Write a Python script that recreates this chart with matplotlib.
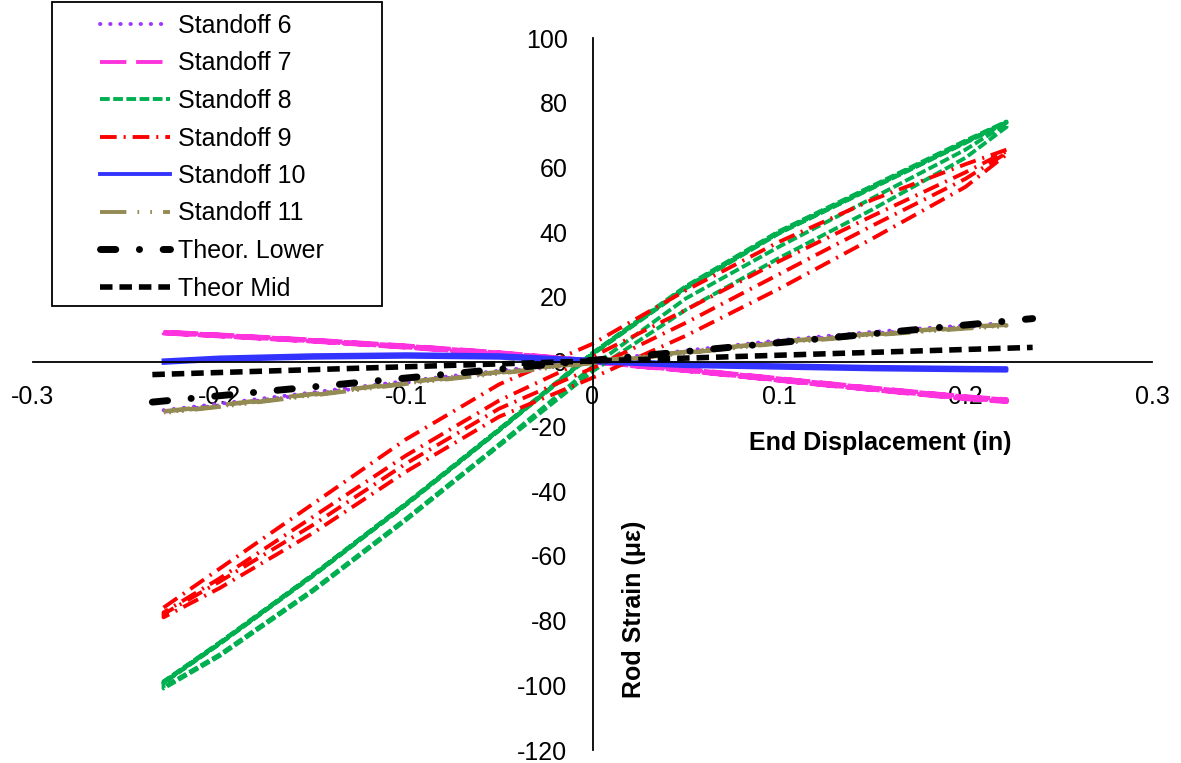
import matplotlib
matplotlib.use("Agg")
import matplotlib.pyplot as plt
from matplotlib.patches import Rectangle

plt.rcParams['font.family'] = ['Liberation Sans', 'DejaVu Sans']
plt.rcParams['axes.unicode_minus'] = False
plt.rcParams['lines.scale_dashes'] = False
plt.rcParams['path.simplify'] = False

# ---------------- data ----------------
x_grid = [-0.23, -0.2, -0.15, -0.1, -0.05, 0.0, 0.05, 0.1, 0.15, 0.2, 0.222]

s6_branches = [
    [-15.0, -13.0, -9.5, -6.0, -2.8, 0.3, 3.4, 6.6, 9.2, 11.2, 11.9],
    [-15.5, -13.5, -10.0, -6.5, -3.3, -0.2, 2.9, 6.1, 8.7, 10.7, 11.4],
]
s7_branches = [
    [9.2, 8.3, 6.7, 4.9, 2.8, 0.3, -2.3, -5.2, -8.1, -10.8, -11.7],
    [8.8, 7.9, 6.3, 4.4, 2.3, -0.2, -2.8, -5.8, -8.7, -11.4, -12.3],
    [9.0, 8.1, 6.5, 4.7, 2.6, 0.1, -2.5, -5.5, -8.4, -11.1, -12.0],
    [8.9, 8.0, 6.4, 4.5, 2.4, -0.1, -2.7, -5.7, -8.6, -11.3, -12.2],
    [9.1, 8.2, 6.6, 4.8, 2.7, 0.2, -2.4, -5.3, -8.2, -10.9, -11.8],
    [8.7, 7.8, 6.2, 4.3, 2.2, -0.3, -2.9, -5.9, -8.8, -11.6, -12.5],
    [9.3, 8.4, 6.8, 5.0, 2.9, 0.4, -2.2, -5.1, -8.0, -10.7, -11.6],
    [8.8, 7.9, 6.3, 4.5, 2.3, -0.2, -2.8, -5.8, -8.7, -11.4, -12.3],
]
s8_branches = [
    [-99, -87, -66, -44, -21, 2.5, 23, 40, 54, 68, 74],
    [-99.3, -87.3, -66.3, -44.3, -21.3, 2.2, 22.6, 39.6, 53.6, 67.6, 73.8],
    [-98.8, -86.8, -65.8, -43.8, -20.8, 2.7, 23.3, 40.3, 54.3, 68.3, 74.2],
    [-99.1, -87.1, -66.1, -44.1, -21.1, 2.4, 22.9, 39.8, 53.8, 67.8, 74],
    [-101, -91, -71, -49, -26, -3, 16, 32, 47, 63, 72.5],
    [-100.5, -90.5, -70.5, -48.5, -25.5, -1.5, 19.5, 35.5, 50.5, 65.5, 73.5],
]
s9_branches = [
    [-76, -64, -44, -24, -7, 5.5, 22, 37, 50, 61, 65.5],
    [-79, -70, -53, -34, -17, -5, 8, 22.5, 38, 54, 64],
    [-77.5, -67, -48, -29, -12, 1.5, 16, 31, 45, 58.5, 65],
    [-78, -68, -50.5, -31.5, -14.5, -2, 12, 27, 42, 56.5, 64.5],
]
s10_branches = [
    [0.4, 1.3, 2.0, 2.3, 2.0, 0.6, -0.6, -1.1, -1.6, -1.9, -2.0],
    [-0.4, 0.5, 1.2, 1.5, 1.2, -0.2, -1.4, -1.9, -2.4, -2.7, -2.8],
]
s11_branches = [
    [-15.3, -13.4, -9.9, -6.3, -3.1, 0.1, 3.1, 6.2, 8.7, 10.8, 11.5],
    [-15.9, -14.0, -10.5, -6.9, -3.7, -0.5, 2.6, 5.6, 8.1, 10.2, 10.9],
    [-15.5, -13.6, -10.1, -6.5, -3.3, -0.1, 2.9, 6.0, 8.5, 10.6, 11.3],
    [-15.7, -13.8, -10.3, -6.7, -3.5, -0.3, 2.7, 5.8, 8.3, 10.4, 11.1],
]
theor_x = [-0.236, 0.236]
theor_lower = [-12.5, 13.3]
theor_mid = [-4.0, 4.4]

series_labels = ["Standoff 6", "Standoff 7", "Standoff 8", "Standoff 9",
                 "Standoff 10", "Standoff 11"]
theor_labels = ["Theor. Lower", "Theor Mid"]
x_ticks = [-0.3, -0.2, -0.1, 0.0, 0.1, 0.2, 0.3]
x_tick_labels = ["-0.3", "-0.2", "-0.1", "0", "0.1", "0.2", "0.3"]
y_ticks = [-120, -100, -80, -60, -40, -20, 0, 20, 40, 60, 80, 100]

# ---------------- figure ----------------
W, H = 1181, 763
fig = plt.figure(figsize=(W / 100, H / 100), dpi=100)
ax = fig.add_axes([33 / W, 1 - 750 / H, 1119 / W, 712 / H])
ax.set_xlim(-0.3, 0.3)
ax.set_ylim(-120, 100)


def loop(branches):
    xs, ys = [], []
    for i, b in enumerate(branches):
        if i % 2 == 0:
            xs += x_grid
            ys += b
        else:
            xs += x_grid[::-1]
            ys += b[::-1]
    return xs, ys


styles = [
    dict(color='#A033FF', lw=2.8, dashes=(0.3, 7.0), dash_capstyle='round'),
    dict(color='#FF33DD', lw=2.8, dashes=(19, 7)),
    dict(color='#00B050', lw=2.8, dashes=(7, 2.5)),
    dict(color='#FF0000', lw=2.8, dashes=(12, 5, 1.5, 5)),
    dict(color='#3333FF', lw=2.8, linestyle='-'),
    dict(color='#948A54', lw=2.8, dashes=(19, 8, 1.2, 8, 1.2, 8)),
]
all_branches = [s6_branches, s7_branches, s8_branches, s9_branches,
                s10_branches, s11_branches]

handles = []
for br, st, lab in zip(all_branches, styles, series_labels):
    xs, ys = loop(br)
    ln, = ax.plot(xs, ys, label=lab, **st)
    handles.append(ln)

ln, = ax.plot(theor_x, theor_lower, color='black', lw=5,
              dashes=(11, 17, 0.1, 17), dash_capstyle='round',
              label=theor_labels[0])
handles.append(ln)
ln, = ax.plot(theor_x, theor_mid, color='black', lw=4, dashes=(9, 5),
              label=theor_labels[1])
handles.append(ln)

# spines at zero
for s in ['top', 'right']:
    ax.spines[s].set_visible(False)
ax.spines['left'].set_position(('data', 0))
ax.spines['bottom'].set_position(('data', 0))
for s in ['left', 'bottom']:
    ax.spines[s].set_linewidth(1.3)
    ax.spines[s].set_color('black')

ax.set_xticks(x_ticks)
ax.set_xticklabels(x_tick_labels)
ax.set_yticks(y_ticks)
ax.tick_params(axis='both', length=0, labelsize=18)
ax.tick_params(axis='x', pad=17)
ax.tick_params(axis='y', pad=18)

ax.set_xlabel("End Displacement (in)", fontsize=18, fontweight='bold',
              va='center', ha='center')
ax.xaxis.set_label_coords(0.757, 0.431)
ax.set_ylabel("Rod Strain (με)", fontsize=18, fontweight='bold',
              va='center', ha='center')
ax.yaxis.set_label_coords(0.537, 0.198)

# legend
fig.add_artist(Rectangle((52 / W, 1 - 306 / H), 330 / W, 304 / H,
                         transform=fig.transFigure, fill=False,
                         ec='black', lw=1.3))
leg = ax.legend(handles=handles, loc='upper left',
                bbox_to_anchor=(100 / W, 1 - 14 / H),
                bbox_transform=fig.transFigure, frameon=False,
                borderpad=0, borderaxespad=0, fontsize=18,
                handlelength=2.8, handletextpad=0.3, labelspacing=0.54)

fig.savefig("out.png", dpi=100)
